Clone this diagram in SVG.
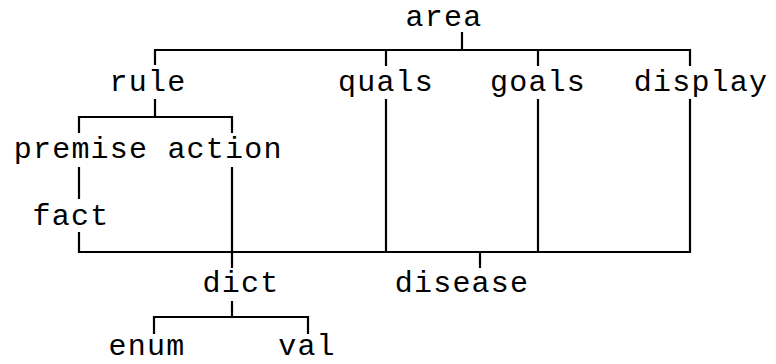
<svg xmlns="http://www.w3.org/2000/svg" width="776" height="364" viewBox="0 0 776 364">
<style>
text{font-family:"Liberation Mono","Courier New",monospace;font-size:30px;letter-spacing:1.2px;fill:#000;text-anchor:middle}
.c{stroke:#000;stroke-width:2.2;fill:none;stroke-linecap:square}
</style>
<rect width="776" height="364" fill="#fff"/>
<g id="connectors" class="c">
<path d="M462,33V50M155,50H690M155,50V64M386,50V65M538,50V65M690,50V65"/>
<path d="M155,100V117M79,117H232M79,117V132M232,117V132"/>
<path d="M79,168V198M79,233V252M79,252H690M232,168V267M386,100V252M538,100V252M690,100V252M480,252V267"/>
<path d="M232,302V317M154,317H308M154,317V333M308,317V333"/>
</g>
<g id="area"><text x="444" y="26">area</text></g>
<g id="rule"><text x="148" y="91">rule</text></g>
<g id="quals"><text x="386" y="91">quals</text></g>
<g id="goals"><text x="538" y="91">goals</text></g>
<g id="display"><text x="701" y="91">display</text></g>
<g id="premise"><text x="81" y="158">premise</text></g>
<g id="action"><text x="225" y="158">action</text></g>
<g id="fact"><text x="71" y="225">fact</text></g>
<g id="dict"><text x="241" y="292">dict</text></g>
<g id="disease"><text x="462" y="292">disease</text></g>
<g id="enum"><text x="147" y="355">enum</text></g>
<g id="val"><text x="307" y="355">val</text></g>
</svg>
